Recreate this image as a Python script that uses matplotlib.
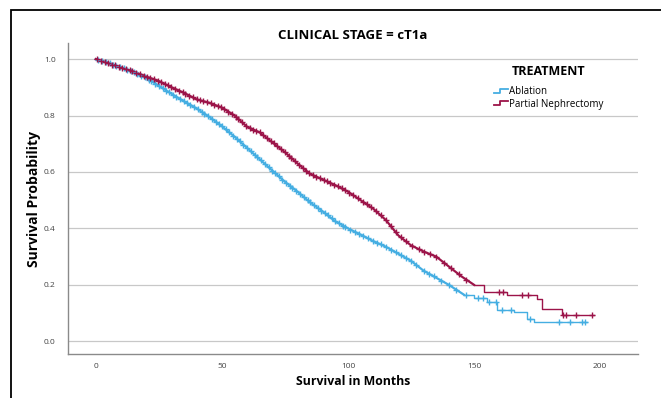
import numpy as np
import matplotlib
matplotlib.use("Agg")
import matplotlib.pyplot as plt
from matplotlib.lines import Line2D
from matplotlib.patches import Rectangle
from matplotlib.legend_handler import HandlerBase

plt.rcParams['font.family'] = ['Open Sans', 'DejaVu Sans']

# Kaplan-Meier estimates, read per group (months, survival)
abl_t = [0, 5, 10, 15, 20, 25, 30, 35, 40, 45, 50, 55, 60, 65, 70, 75, 80, 85, 90,
         95, 100, 105, 110, 115, 120, 125, 130, 135, 140, 146]
abl_s = [1.0, .987, .97, .953, .933, .905, .877, .85, .825, .795, .762, .725, .685,
         .645, .605, .565, .53, .492, .46, .425, .4, .378, .355, .335, .31, .285,
         .25, .225, .2, .165]
abl_tail_t = [146, 150, 155, 159, 166, 171, 174, 195]
abl_tail_s = [.165, .155, .14, .112, .102, .08, .068, .068]
abl_cens = [1, 2.5, 4, 5.5, 7, 8, 9.5, 11, 12.5, 14, 15, 16.5, 18, 19.5, 21, 22, 23.5,
            25, 26.5, 28, 29, 30.5, 32, 33.5, 35, 36, 37.5, 39, 40.5, 42, 43, 44.5,
            46, 47.5, 49, 50, 51.5, 53, 54.5, 56, 57, 58.5, 60, 61.5, 63, 64, 65.5,
            67, 68.5, 70, 71, 72.5, 74, 75.5, 77, 78, 79.5, 81, 82.5, 84, 85, 86.5,
            88, 89.5, 91, 92, 93.5, 95, 96.5, 98, 99, 101, 103, 104.5, 106, 108, 110,
            111.5, 113, 115, 117, 119, 121, 123, 125, 127, 130, 132, 134, 137, 140,
            143, 147, 151.5, 153.5, 156, 158.6, 161, 164.5, 172.4, 183.8, 188, 193,
            194.2]

pn_t = [0, 5, 10, 15, 20, 25, 30, 35, 40, 45, 50, 55, 60, 65, 70, 75, 80, 85, 90,
        95, 100, 105, 110, 115, 120, 125, 130, 135, 140, 145, 150]
pn_s = [1.0, .985, .97, .955, .938, .922, .9, .88, .857, .845, .828, .8, .76, .74,
        .705, .67, .63, .593, .573, .553, .53, .5, .47, .43, .375, .34, .318, .3,
        .265, .23, .2]
pn_tail_t = [150, 154, 163, 175, 177, 185, 197.6]
pn_tail_s = [.2, .175, .165, .148, .116, .094, .094]
pn_cens = [0.5, 2, 3.5, 5, 6.5, 7.5, 9, 10.5, 12, 13.5, 14.5, 16, 17.5, 19, 20.5, 21.5,
           23, 24.5, 26, 27.5, 28.5, 30, 31.5, 33, 34.5, 35.5, 37, 38.5, 40, 41.5,
           42.5, 44, 45.5, 47, 48.5, 49.5, 51, 52.5, 54, 55.5, 56.5, 58, 59.5, 61,
           62.5, 63.5, 65, 66.5, 68, 69.5, 70.5, 72, 73.5, 75, 76.5, 77.5, 79, 80.5,
           82, 83.5, 84.5, 86, 87.5, 89, 90.5, 91.5, 93, 94.5, 96, 97.5, 99, 100.5,
           102, 104, 106, 107.5, 109, 111, 113, 115, 117, 119, 121, 123, 125.5, 128,
           130, 132.5, 135, 138, 141, 144, 147, 160, 161.5, 169, 171.6, 185.5, 186.5,
           190.5, 197]

abl_color = '#45aee2'
pn_color = '#9c1449'


def curve_at(times, t, s, tail_t, tail_s):
    times = np.asarray(times, dtype=float)
    out = np.interp(times, t, s)
    late = times >= tail_t[0]
    idx = np.searchsorted(tail_t, times[late], side='right') - 1
    out[late] = np.asarray(tail_s)[np.clip(idx, 0, len(tail_s) - 1)]
    return out


class StepHandler(HandlerBase):
    def create_artists(self, legend, orig_handle, xdescent, ydescent,
                       width, height, fontsize, trans):
        x0, x1 = -xdescent, -xdescent + width
        xm = x0 + width * 0.45
        y0, y1 = -ydescent + height * 0.2, -ydescent + height * 0.75
        ln = Line2D([x0, xm, xm, x1], [y0, y0, y1, y1],
                    color=orig_handle.get_color(), lw=1.3, transform=trans)
        return [ln]


fig = plt.figure(figsize=(6.61, 3.98), dpi=100)
ax = fig.add_axes([0.103, 0.11, 0.862, 0.782])

for t, s, tt, ts, cens, col in [(abl_t, abl_s, abl_tail_t, abl_tail_s, abl_cens, abl_color),
                                (pn_t, pn_s, pn_tail_t, pn_tail_s, pn_cens, pn_color)]:
    ax.plot(t, s, color=col, lw=1.6, zorder=3)
    ax.plot(tt, ts, color=col, lw=1.0, drawstyle='steps-post', zorder=3)
    ax.plot(cens, curve_at(cens, t, s, tt, ts), ls='none', marker='+',
            ms=5, mew=1.0, color=col, zorder=4)

ax.set_xlim(-11, 215)
ax.set_ylim(-0.046, 1.057)
ax.set_xticks([0, 50, 100, 150, 200])
ax.set_yticks([0.0, 0.2, 0.4, 0.6, 0.8, 1.0])
ax.set_yticklabels(['0.0', '0.2', '0.4', '0.6', '0.8', '1.0'])
ax.tick_params(length=0, labelsize=6, colors='#444444')
ax.tick_params(axis='y', pad=9)
ax.tick_params(axis='x', pad=6)
ax.grid(axis='y', color='#c8c8c8', lw=0.9)
ax.set_axisbelow(True)
for side in ['top', 'right']:
    ax.spines[side].set_visible(False)
for side in ['left', 'bottom']:
    ax.spines[side].set_color('#8a8a8a')
    ax.spines[side].set_linewidth(1.0)

ax.set_title('CLINICAL STAGE = cT1a', fontsize=9.5, fontweight='bold', pad=3)
ax.set_xlabel('Survival in Months', fontsize=8.8, fontweight='bold', labelpad=4)
ax.set_ylabel('Survival Probability', fontsize=10, fontweight='bold', labelpad=2)

handles = [Line2D([], [], color=abl_color), Line2D([], [], color=pn_color)]
leg = ax.legend(handles, ['Ablation', 'Partial Nephrectomy'],
                handler_map={Line2D: StepHandler()},
                title='TREATMENT', title_fontproperties={'weight': 'bold', 'size': 9},
                fontsize=7, frameon=False, loc='upper left',
                bbox_to_anchor=(0.736, 0.952), handlelength=1.4, handletextpad=0.1,
                labelspacing=0.15, borderaxespad=0.3)
leg._legend_box.align = 'center'
leg._legend_box.sep = 6

# outer frame of the output panel
fig.add_artist(Rectangle((11 / 661, -0.2), 1.2, 1.2 - 10 / 398,
                         transform=fig.transFigure, fill=False,
                         edgecolor='black', lw=1.3))

fig.savefig('out.png', dpi=100)
